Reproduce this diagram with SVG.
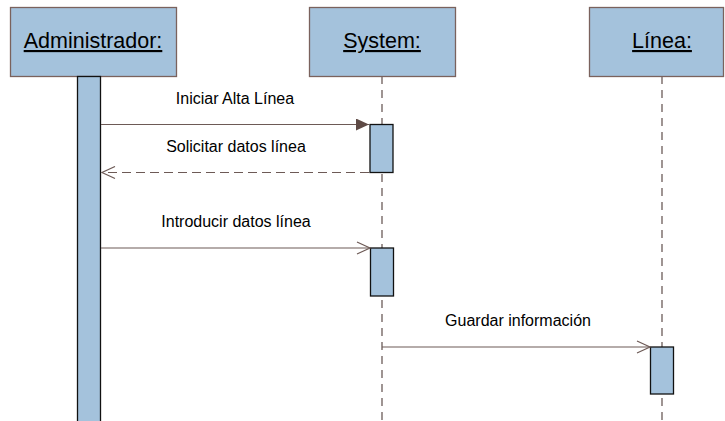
<svg xmlns="http://www.w3.org/2000/svg" width="725" height="421" viewBox="0 0 725 421">
  <defs>
    <style>
      .head { fill: #a4c2dc; stroke: #7a625d; stroke-width: 1.3; }
      .title { font-family: "Liberation Sans", Arial, sans-serif; font-size: 21.5px; fill: #000; text-anchor: middle; text-decoration: underline; }
      .life { stroke: #5f4f4b; stroke-width: 1.2; stroke-dasharray: 8 6; fill: none; }
      .act { fill: #a4c2dc; stroke: #111; stroke-width: 1.3; }
      .msg { stroke: #6d5a56; stroke-width: 1.2; fill: none; }
      .ret { stroke: #6d5a56; stroke-width: 1.2; fill: none; stroke-dasharray: 9 5; }
      .label { font-family: "Liberation Sans", Arial, sans-serif; font-size: 16px; fill: #000; text-anchor: middle; }
    </style>
    <marker id="filled" markerWidth="14" markerHeight="12" refX="13" refY="6" orient="auto" markerUnits="userSpaceOnUse">
      <path d="M0,0 L13,6 L0,12 Z" fill="#5e4a45"/>
    </marker>
    <marker id="open" markerWidth="16" markerHeight="14" refX="14" refY="7" orient="auto" markerUnits="userSpaceOnUse">
      <path d="M1,1 L14,7 L1,13" fill="none" stroke="#6d5a56" stroke-width="1.2"/>
    </marker>
  </defs>

  <rect width="725" height="421" fill="#fff"/>

  <!-- Lifelines -->
  <g id="lifelines">
    <line class="life" x1="382" y1="76" x2="382" y2="421"/>
    <line class="life" x1="662" y1="76" x2="662" y2="421"/>
  </g>

  <g id="administrador">
    <rect class="head" x="10.5" y="7.5" width="166" height="69"/>
    <text class="title" x="93" y="48">Administrador:</text>
    <rect class="act" x="77.5" y="76.5" width="23" height="350"/>
  </g>

  <g id="system">
    <rect class="head" x="309.5" y="7.5" width="146" height="69"/>
    <text class="title" x="382" y="48">System:</text>
    <rect class="act" x="370" y="124.5" width="23" height="48"/>
    <rect class="act" x="370.5" y="248" width="23" height="48"/>
  </g>

  <g id="linea">
    <rect class="head" x="589.5" y="7.5" width="134" height="69"/>
    <text class="title" x="662" y="48">Línea:</text>
    <rect class="act" x="650.5" y="347" width="23" height="47"/>
  </g>

  <!-- Messages -->
  <g id="connectors">
    <line class="msg" x1="101" y1="124.5" x2="369" y2="124.5" marker-end="url(#filled)"/>
    <text class="label" x="235" y="104">Iniciar Alta Línea</text>

    <line class="ret" x1="369" y1="172.5" x2="102" y2="172.5" marker-end="url(#open)"/>
    <text class="label" x="236" y="152">Solicitar datos línea</text>

    <line class="msg" x1="101" y1="248" x2="370" y2="248" marker-end="url(#open)"/>
    <text class="label" x="236" y="227">Introducir datos línea</text>

    <line class="msg" x1="382" y1="347" x2="650" y2="347" marker-end="url(#open)"/>
    <text class="label" x="518" y="326">Guardar información</text>
  </g>
</svg>
